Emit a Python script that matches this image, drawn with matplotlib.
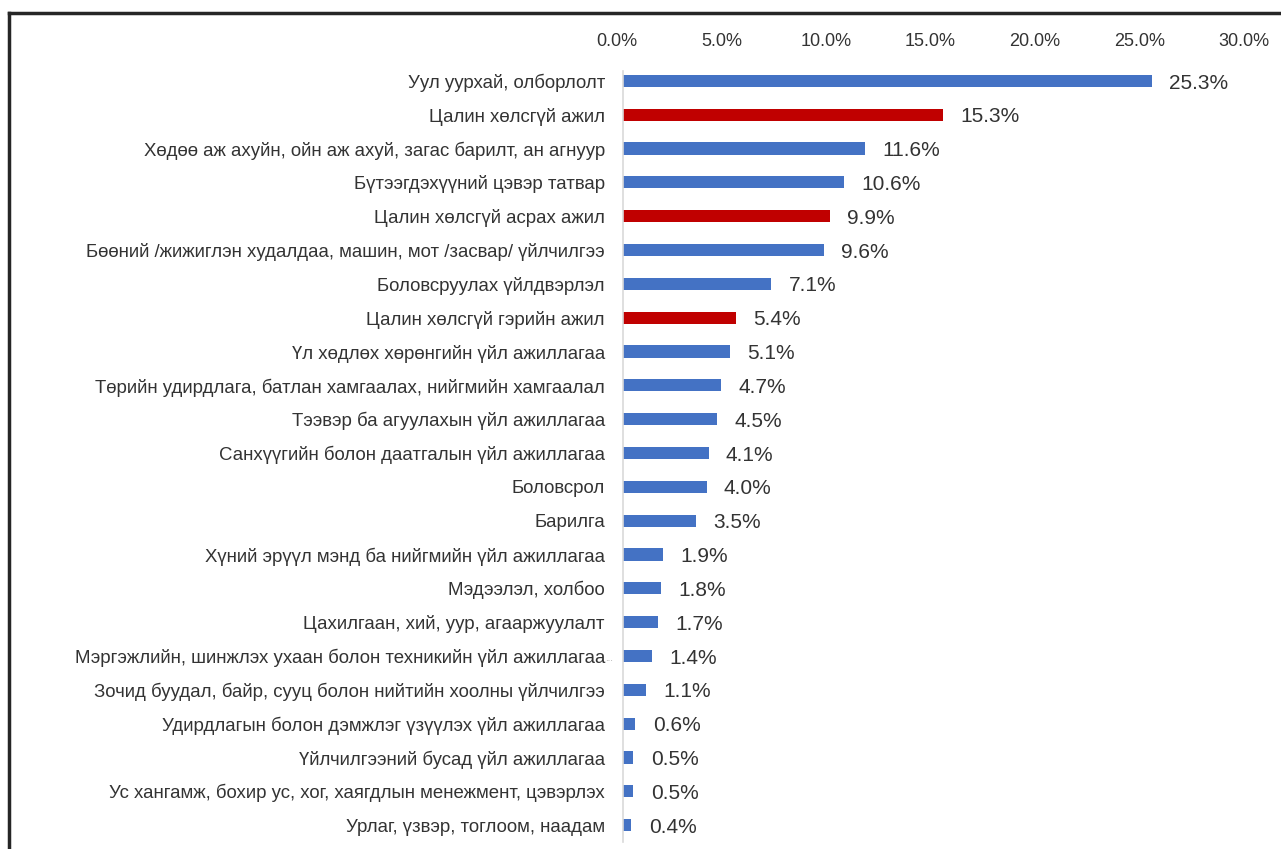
import matplotlib
matplotlib.use("Agg")
import matplotlib.pyplot as plt
from matplotlib.lines import Line2D
from matplotlib.ticker import FuncFormatter, MultipleLocator
from matplotlib.transforms import ScaledTranslation

plt.rcParams['font.family'] = ['Liberation Sans', 'DejaVu Sans']

categories = [
    "Уул уурхай, олборлолт",
    "Цалин хөлсгүй ажил",
    "Хөдөө аж ахуйн, ойн аж ахуй, загас барилт, ан агнуур",
    "Бүтээгдэхүүний цэвэр татвар",
    "Цалин хөлсгүй асрах ажил",
    "Бөөний /жижиглэн худалдаа, машин, мот /засвар/ үйлчилгээ",
    "Боловсруулах үйлдвэрлэл",
    "Цалин хөлсгүй гэрийн ажил",
    "Үл хөдлөх хөрөнгийн үйл ажиллагаа",
    "Төрийн удирдлага, батлан хамгаалах, нийгмийн хамгаалал",
    "Тээвэр ба агуулахын үйл ажиллагаа",
    "Санхүүгийн болон даатгалын үйл ажиллагаа",
    "Боловсрол",
    "Барилга",
    "Хүний эрүүл мэнд ба нийгмийн үйл ажиллагаа",
    "Мэдээлэл, холбоо",
    "Цахилгаан, хий, уур, агааржуулалт",
    "Мэргэжлийн, шинжлэх ухаан болон техникийн үйл ажиллагаа...",
    "Зочид буудал, байр, сууц болон нийтийн хоолны үйлчилгээ",
    "Удирдлагын болон дэмжлэг үзүүлэх үйл ажиллагаа",
    "Үйлчилгээний бусад үйл ажиллагаа",
    "Ус хангамж, бохир ус, хог, хаягдлын менежмент, цэвэрлэх",
    "Урлаг, үзвэр, тоглоом, наадам",
]
values = [25.3, 15.3, 11.6, 10.6, 9.9, 9.6, 7.1, 5.4, 5.1, 4.7, 4.5, 4.1, 4.0,
          3.5, 1.9, 1.8, 1.7, 1.4, 1.1, 0.6, 0.5, 0.5, 0.4]
unpaid = [False, True, False, False, True, False, False, True, False, False,
          False, False, False, False, False, False, False, False, False, False,
          False, False, False]

BLUE = "#4472C4"
RED = "#C00000"
TXT = "#333333"

fig = plt.figure(figsize=(12.81, 8.49), dpi=100)
ax = fig.add_axes([0.4863, 0.0082, 0.4894, 0.9164])

y = list(range(len(categories)))
colors = [RED if u else BLUE for u in unpaid]
ax.barh(y, values, height=0.36, color=colors, edgecolor='none')

for yi, v in zip(y, values):
    ax.annotate(f"{v:.1f}%", xy=(v, yi), xytext=(12.5, -1.5), textcoords='offset points',
                ha='left', va='center', fontsize=15, color=TXT)

ax.set_xlim(0, 30)
ax.set_ylim(len(categories) - 0.5, -0.5)
ax.xaxis.set_major_locator(MultipleLocator(5))
ax.xaxis.set_major_formatter(FuncFormatter(lambda v, p: f"{v:.1f}%"))
ax.xaxis.tick_top()
ax.tick_params(axis='x', length=0, pad=10, labelsize=13, labelcolor=TXT)
shift = ScaledTranslation(-6 / 100, 0, fig.dpi_scale_trans)
for lab in ax.get_xticklabels():
    lab.set_transform(lab.get_transform() + shift)

# truncated labels: main text as tick label, small grey ellipsis after it
shown = []
for yi, c in zip(y, categories):
    if c.endswith("..."):
        shown.append(c[:-3])
        ax.annotate("...", xy=(0, yi), xycoords=('axes fraction', 'data'),
                    xytext=(-12.6, -1.5), textcoords='offset points',
                    ha='left', va='center', fontsize=7, color='#A6A6A6')
    else:
        shown.append(c)
ax.set_yticks(y)
ax.set_yticklabels(shown)
ax.tick_params(axis='y', length=0, pad=13, labelsize=13.4, labelcolor=TXT)

for s in ['top', 'right', 'bottom']:
    ax.spines[s].set_visible(False)
ax.spines['left'].set_color('#D9D9D9')
ax.spines['left'].set_linewidth(1.2)
ax.spines['left'].set_bounds(len(categories) - 0.5, -0.3)

# outer frame (top and left edges visible)
fig.add_artist(Line2D([0.0070, 1.0], [0.9847, 0.9847], transform=fig.transFigure,
                      color='#262626', linewidth=2.5))
fig.add_artist(Line2D([0.0070, 0.0070], [0.0, 0.9847], transform=fig.transFigure,
                      color='#262626', linewidth=2.5))

fig.savefig("out.png", dpi=100, facecolor='white')
